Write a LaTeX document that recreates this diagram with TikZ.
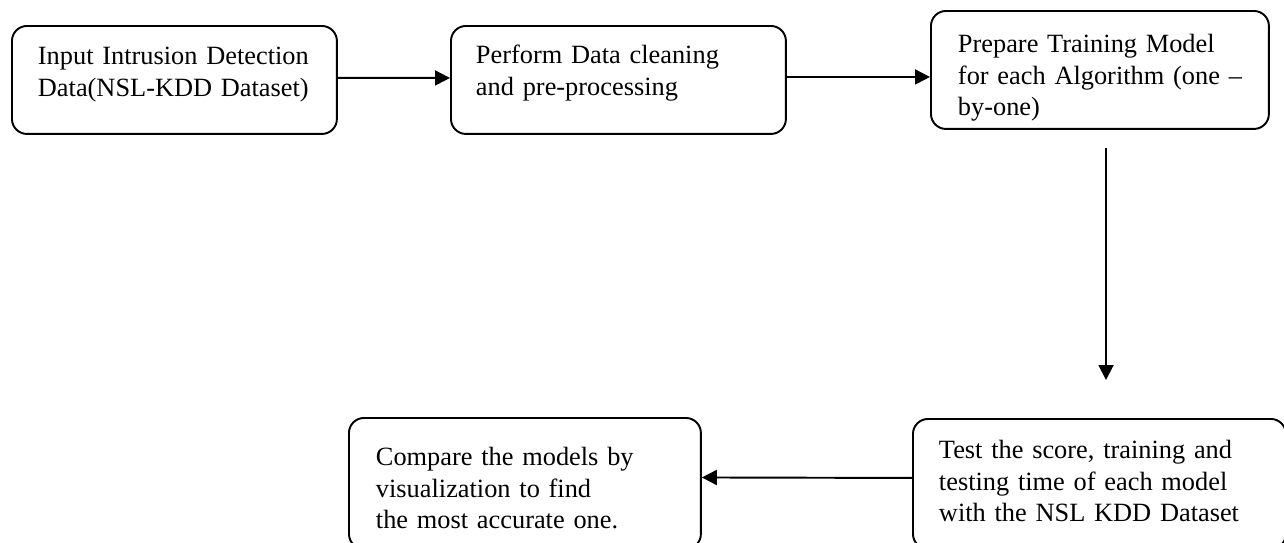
\documentclass[tikz,border=0pt]{standalone}
\usepackage{fontspec}
\setmainfont{Liberation Serif}
\usepackage{tikz}
\usetikzlibrary{
  arrows.meta,
  positioning
}
\tikzset{
    stepbox/.style={draw, rounded corners=0.3cm, line width=1.1pt, align=left,
        anchor=north west, inner ysep=0pt, font=\fontsize{15}{17.9}\selectfont},
    flowarrow/.style={line width=1.1pt, -{Triangle[length=0.3cm, width=0.3cm]}}
}

\begin{document}
\begin{tikzpicture}[x=0.02cm, y=-0.02cm]
                \clip (0,0) rectangle (1284,542);
                \node[stepbox, inner xsep=0.52cm, text width=5.46cm, text height=0.78cm, text depth=1.38cm] (input) at (11,25) {
                    Input Intrusion Detection\\
                    Data(NSL-KDD Dataset)
                };
                \node[stepbox, inner xsep=0.5cm, text width=5.7cm, text height=0.76cm, text depth=1.40cm] (clean) at (450,25) {
                    Perform Data cleaning\\
                    and pre-processing
                };
                \node[stepbox, inner xsep=0.54cm, text width=5.68cm, text height=0.84cm, text depth=1.52cm] (train) at (930,10) {
                    Prepare Training Model\\
                    \mbox{for each Algorithm (one --}\\
                    by-one)
                };
                \node[stepbox, inner xsep=0.52cm, text width=6.42cm, text height=0.8cm, text depth=1.8cm] (test) at (912,418) {
                    Test the score, training and\\
                    testing time of each model\\
                    with the NSL KDD Dataset
                };
                \node[stepbox, inner xsep=0.54cm, text width=5.96cm, text height=0.96cm, text depth=1.66cm] (compare) at (348,417) {
                    Compare the models by\\
                    visualization to find\\
                    the most accurate one.
                };
                \coordinate (down top) at (1106,148);
                \coordinate (down end) at (1106,380);
                \draw[flowarrow] ([yshift=0.04cm]input.east) -- ([yshift=0.04cm]clean.west);
                \draw[flowarrow] ([yshift=0.06cm]clean.east) -- ([yshift=0.06cm]clean.east -| train.west);
                \draw[flowarrow] (down top) -- (down end);
                \draw[flowarrow] ([yshift=0.12cm]test.west) -- ([yshift=0.12cm]compare.east);
            \end{tikzpicture}
\end{document}
